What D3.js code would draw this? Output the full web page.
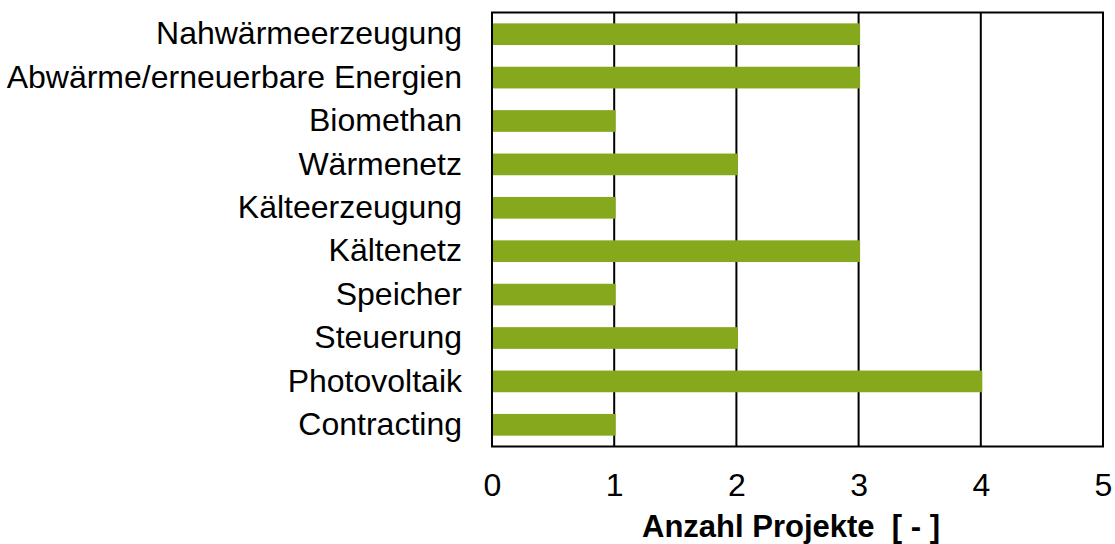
<!DOCTYPE html>
<html>
<head>
<meta charset="utf-8">
<script src="https://cdn.jsdelivr.net/npm/d3@7"></script>
<style>
  html, body { margin: 0; padding: 0; background: #fff; }
  svg { display: block; }
  text { font-family: "Liberation Sans", Arial, sans-serif; fill: #000; }
</style>
</head>
<body>
<svg id="chart" width="1115" height="544"></svg>
<script>
// Project counts per technology field
const categories = [
  "Nahwärmeerzeugung",
  "Abwärme/erneuerbare Energien",
  "Biomethan",
  "Wärmenetz",
  "Kälteerzeugung",
  "Kältenetz",
  "Speicher",
  "Steuerung",
  "Photovoltaik",
  "Contracting"
];
const projectCounts = [3, 3, 1, 2, 1, 3, 1, 2, 4, 1];
const xTicks = [0, 1, 2, 3, 4, 5];
const xTitle = "Anzahl Projekte\u00a0\u00a0[ - ]";

const svg = d3.select("#chart");
const plot = { left: 492, right: 1103, top: 12.5, bottom: 446.5 };

const x = d3.scaleLinear().domain([0, 5]).range([plot.left, plot.right]);
const y = d3.scaleBand().domain(categories).range([plot.top, plot.bottom]).paddingInner(0.5).paddingOuter(0.25);

const g = svg.append("g");

// vertical gridlines
g.selectAll("line.grid")
  .data(xTicks.slice(1, -1))
  .enter().append("line")
  .attr("class", "grid")
  .attr("x1", d => x(d)).attr("x2", d => x(d))
  .attr("y1", plot.top).attr("y2", plot.bottom)
  .attr("stroke", "#000").attr("stroke-width", 2);

// bars
g.selectAll("rect.bar")
  .data(categories)
  .enter().append("rect")
  .attr("class", "bar")
  .attr("x", x(0))
  .attr("y", d => y(d))
  .attr("width", (d, i) => x(projectCounts[i]) - x(0) + 1.5)
  .attr("height", y.bandwidth())
  .attr("fill", "#86a81d");

// plot frame
g.append("rect")
  .attr("x", plot.left).attr("y", plot.top)
  .attr("width", plot.right - plot.left).attr("height", plot.bottom - plot.top)
  .attr("fill", "none").attr("stroke", "#000").attr("stroke-width", 2);

// category labels
const yAxis = d3.axisLeft(y).tickSize(0).tickPadding(30);
const ya = svg.append("g").attr("transform", `translate(${plot.left},0)`).call(yAxis);
ya.select(".domain").remove();
ya.selectAll("text")
  .attr("font-family", "Liberation Sans, Arial, sans-serif")
  .attr("font-size", 32).attr("fill", "#000");

// x tick labels
const xAxis = d3.axisBottom(x).tickValues(xTicks).tickSize(0).tickPadding(27).tickFormat(d3.format("d"));
const xa = svg.append("g").attr("transform", `translate(0,${plot.bottom})`).call(xAxis);
xa.select(".domain").remove();
xa.selectAll("text")
  .attr("font-family", "Liberation Sans, Arial, sans-serif")
  .attr("font-size", 32).attr("fill", "#000");

// axis title
svg.append("text")
  .attr("x", 791).attr("y", 537)
  .attr("text-anchor", "middle")
  .attr("font-size", 31).attr("font-weight", "bold")
  .text(xTitle);
</script>
</body>
</html>
